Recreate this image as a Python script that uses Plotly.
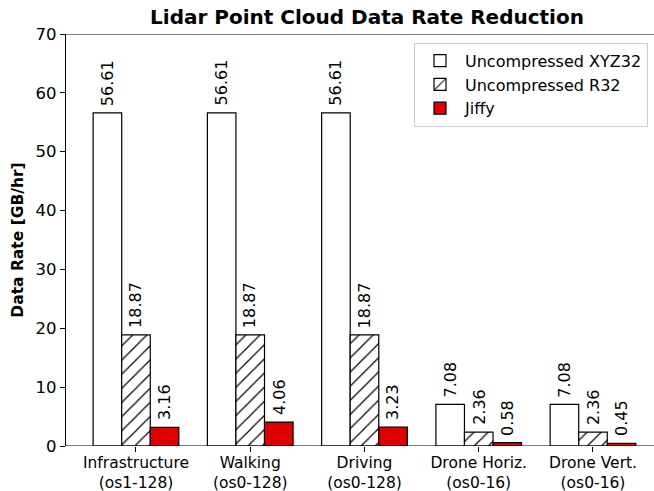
import plotly.graph_objects as go

categories = ["Infrastructure<br>(os1-128)", "Walking<br>(os0-128)", "Driving<br>(os0-128)",
              "Drone Horiz.<br>(os0-16)", "Drone Vert.<br>(os0-16)"]
xyz32 = [56.61, 56.61, 56.61, 7.08, 7.08]
r32 = [18.87, 18.87, 18.87, 2.36, 2.36]
jiffy = [3.16, 4.06, 3.23, 0.58, 0.45]
series_names = ["Uncompressed XYZ32", "Uncompressed R32", "Jiffy"]
y_ticks = [0, 10, 20, 30, 40, 50, 60, 70]

FONT = "DejaVu Sans"
BAR_W = 0.25
xi = list(range(len(categories)))

fig = go.Figure()
fig.add_trace(go.Bar(x=xi, y=xyz32, name=series_names[0],
                     marker=dict(color="white", line=dict(color="black", width=1.2))))
fig.add_trace(go.Bar(x=xi, y=r32, name=series_names[1],
                     marker=dict(color="white", line=dict(color="black", width=1.2),
                                 pattern=dict(shape="/", fgcolor="black", bgcolor="white",
                                              fgopacity=1, size=10, solidity=0.12))))
fig.add_trace(go.Bar(x=xi, y=jiffy, name=series_names[2],
                     marker=dict(color="#e00000", line=dict(color="black", width=1.2))))

annotations = []
for k, series in enumerate([xyz32, r32, jiffy]):
    for i, v in zip(xi, series):
        annotations.append(dict(x=i + (k - 1) * BAR_W, y=v, xref="x", yref="y",
                                text=f"{v:.2f}", showarrow=False, textangle=-90,
                                xanchor="center", yanchor="bottom", yshift=5,
                                font=dict(family=FONT, size=16, color="black")))

W = 654
fig.update_layout(
    width=W, height=491,
    margin=dict(l=66, r=0, t=34, b=45),
    paper_bgcolor="white", plot_bgcolor="white",
    barmode="group", bargap=0.25, bargroupgap=0,
    font=dict(family=FONT, size=16, color="black"),
    title=dict(text="<b>Lidar Point Cloud Data Rate Reduction</b>", x=367 / W, xanchor="center",
               y=1 - 17 / 491, yanchor="middle", font=dict(family=FONT, size=20, color="black")),
    xaxis=dict(range=[-0.6125, 4.534], tickmode="array", tickvals=xi, ticktext=categories,
               showline=False, ticks="outside", ticklen=5,
               tickcolor="black", showgrid=False, zeroline=False, automargin=False,
               ticklabelstandoff=-3,
               tickfont=dict(family=FONT, size=15.5, color="black")),
    yaxis=dict(range=[0, 70], tickvals=y_ticks, showline=True, linecolor="black", linewidth=1.2,
               ticks="outside", ticklen=5, tickcolor="black", showgrid=False, zeroline=False,
               automargin=False,
               title=dict(text="<b>Data Rate [GB/hr]</b>", font=dict(family=FONT, size=15.5), standoff=8),
               tickfont=dict(family=FONT, size=16.5, color="black")),
    legend=dict(x=(414 - 66) / (W - 66), y=0.979, xanchor="left", yanchor="top", bgcolor="white",
                bordercolor="#cccccc", borderwidth=1, font=dict(family=FONT, size=16),
                tracegroupgap=0, itemwidth=40),
    annotations=annotations,
    shapes=[dict(type="line", xref="paper", yref="y", x0=0, x1=1.02, y0=70, y1=70,
                 line=dict(color="black", width=1.2)),
            dict(type="line", xref="paper", yref="y", x0=0, x1=1.02, y0=0, y1=0,
                 line=dict(color="black", width=1.2))],
)

fig.write_html("out.html", config={"displayModeBar": False},
               post_script="document.body.style.margin='0';")
